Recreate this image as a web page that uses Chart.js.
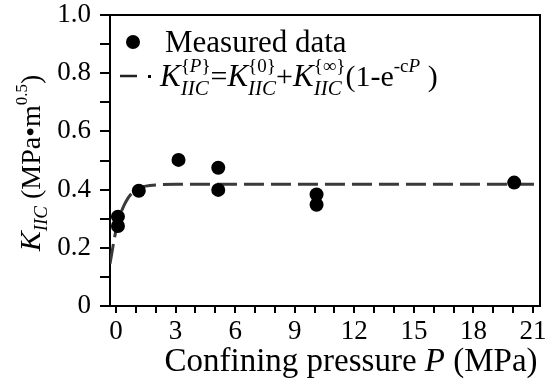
<!DOCTYPE html>
<html>
<head>
<meta charset="utf-8">
<script src="https://cdn.jsdelivr.net/npm/chart.js@4/dist/chart.umd.min.js"></script>
<style>
  html, body { margin: 0; padding: 0; background: #fff; }
</style>
</head>
<body>
<canvas id="kChart" width="547" height="383"></canvas>
<script>
// measured points
const pressure = [0.1, 0.1, 1.15, 3.15, 5.15, 5.15, 10.1, 10.1, 20.05];
const kiic = [0.307, 0.275, 0.396, 0.502, 0.475, 0.399, 0.383, 0.348, 0.424];

// fitted curve
const fitP = [-0.3, 0, 0.2, 0.4, 0.6, 0.8, 1.0, 1.25, 1.5, 2, 3, 21.35];
const fitK = [0.145, 0.26, 0.31, 0.345, 0.37, 0.388, 0.40, 0.407, 0.412, 0.416, 0.418, 0.418];

const xLabelTicks = [0, 3, 6, 9, 12, 15, 18, 21];
const yLabelTicks = ["0", "0.2", "0.4", "0.6", "0.8", "1.0"];

const FAM = '"Liberation Serif", "Times New Roman", serif';
function fnt(size, it) { return (it ? "italic " : "") + size + "px " + FAM; }

// draws (or just measures) a run of text pieces with sub/superscripts
function run(ctx, x, y, items, draw) {
    let w = 0;
    for (const p of items) {
        if (p.stack) {
            let m = 0;
            for (const r of p.stack) m = Math.max(m, run(ctx, x + w, y, r, draw));
            w += m;
        } else {
            ctx.font = fnt(p.size, p.it);
            if (draw) ctx.fillText(p.t, x + w, y + (p.dy || 0));
            w += ctx.measureText(p.t).width;
        }
    }
    return w;
}

function kSym(sup) {
    return [
        { t: "K", size: 31, it: true },
        { stack: [sup, [{ t: "IIC", size: 21, it: true, dy: 9 }]] }
    ];
}

const legendFormula = [].concat(
    kSym([{ t: "{", size: 19, dy: -14 }, { t: "P", size: 19, it: true, dy: -14 }, { t: "}", size: 19, dy: -14 }]),
    [{ t: "=", size: 30 }],
    kSym([{ t: "{0}", size: 19, dy: -14 }]),
    [{ t: "+", size: 30 }],
    kSym([{ t: "{\u221E}", size: 19, dy: -14 }]),
    [{ t: "(1-e", size: 30 }, { t: "-c", size: 19, dy: -14 }, { t: "P", size: 19, it: true, dy: -14 }, { t: " )", size: 30 }]
);

const yTitle = [
    { t: "K", size: 30, it: true },
    { t: "IIC", size: 19, it: true, dy: 7 },
    { t: " (MPa\u2022m", size: 28 },
    { t: "0.5", size: 17, dy: -13 },
    { t: ")", size: 28 }
];

const xTitle = [
    { t: "Confining pressure ", size: 33 },
    { t: "P", size: 33, it: true },
    { t: " (MPa)", size: 33 }
];

const decor = {
    id: "decor",
    afterDraw(chart) {
        const ctx = chart.ctx;
        const a = chart.chartArea;
        ctx.save();
        // frame top and right
        ctx.strokeStyle = "#000";
        ctx.lineWidth = 2;
        ctx.beginPath();
        ctx.moveTo(a.left, a.top);
        ctx.lineTo(a.right, a.top);
        ctx.lineTo(a.right, a.bottom);
        ctx.stroke();

        ctx.fillStyle = "#000";
        ctx.textBaseline = "alphabetic";
        ctx.textAlign = "left";

        // legend
        ctx.beginPath();
        ctx.arc(a.left + 23, a.top + 27, 7, 0, Math.PI * 2);
        ctx.fill();
        ctx.font = fnt(31, false);
        ctx.fillText("Measured data", a.left + 55, a.top + 37);

        ctx.strokeStyle = "#222";
        ctx.lineWidth = 2.5;
        ctx.beginPath();
        ctx.moveTo(a.left + 10, a.top + 61);
        ctx.lineTo(a.left + 27, a.top + 61);
        ctx.stroke();
        ctx.fillRect(a.left + 38, a.top + 60, 3, 3);
        run(ctx, a.left + 50, a.top + 71, legendFormula, true);

        // x title
        const wx = run(ctx, 0, 0, xTitle, false);
        run(ctx, 351 - wx / 2, 371, xTitle, true);

        // y title
        const wy = run(ctx, 0, 0, yTitle, false);
        ctx.translate(40, 163);
        ctx.rotate(-Math.PI / 2);
        run(ctx, -wy / 2, 0, yTitle, true);
        ctx.restore();
    }
};

const ctx = document.getElementById("kChart").getContext("2d");

const kChart = new Chart(ctx, {
    type: "scatter",
    data: {
        datasets: [{
            label: "Measured data",
            data: pressure.map((p, i) => ({ x: p, y: kiic[i] })),
            backgroundColor: "#000",
            borderWidth: 0,
            pointRadius: 7,
            order: 0
        }, {
            label: "fit",
            data: fitP.map((p, i) => ({ x: p, y: fitK[i] })),
            showLine: true,
            borderColor: "#3a3a3a",
            borderWidth: 3,
            borderDash: [20, 7],
            pointRadius: 0,
            cubicInterpolationMode: "monotone",
            order: 1
        }]
    },
    options: {
        responsive: false,
        animation: false,
        devicePixelRatio: 1,
        layout: { padding: { top: 15, right: 3, left: 0, bottom: 0 } },
        plugins: { legend: { display: false }, tooltip: { enabled: false } },
        scales: {
            x: {
                type: "linear",
                min: -0.3,
                max: 21.35,
                afterFit: s => { s.height = 77; s.paddingLeft = 0; s.paddingRight = 0; },
                ticks: {
                    stepSize: 1,
                    includeBounds: false,
                    autoSkip: false,
                    maxRotation: 0,
                    padding: 3,
                    color: "#000",
                    font: { family: FAM, size: 27 },
                    callback: v => xLabelTicks.includes(v) ? String(v) : ""
                },
                grid: { drawOnChartArea: false, drawTicks: true, tickLength: 7, color: "#000", lineWidth: 2 },
                border: { color: "#000", width: 2 }
            },
            y: {
                min: 0,
                max: 1,
                afterFit: s => { s.width = 110; s.paddingTop = 0; s.paddingBottom = 0; },
                ticks: {
                    stepSize: 0.1,
                    autoSkip: false,
                    padding: 9,
                    color: "#000",
                    font: { family: FAM, size: 27 },
                    callback: v => {
                        const k = Math.round(v * 10);
                        return k % 2 === 0 ? yLabelTicks[k / 2] : "";
                    }
                },
                grid: { drawOnChartArea: false, drawTicks: true, tickLength: 10, color: "#000", lineWidth: 2 },
                border: { color: "#000", width: 2 }
            }
        }
    },
    plugins: [decor]
});
</script>
</body>
</html>
